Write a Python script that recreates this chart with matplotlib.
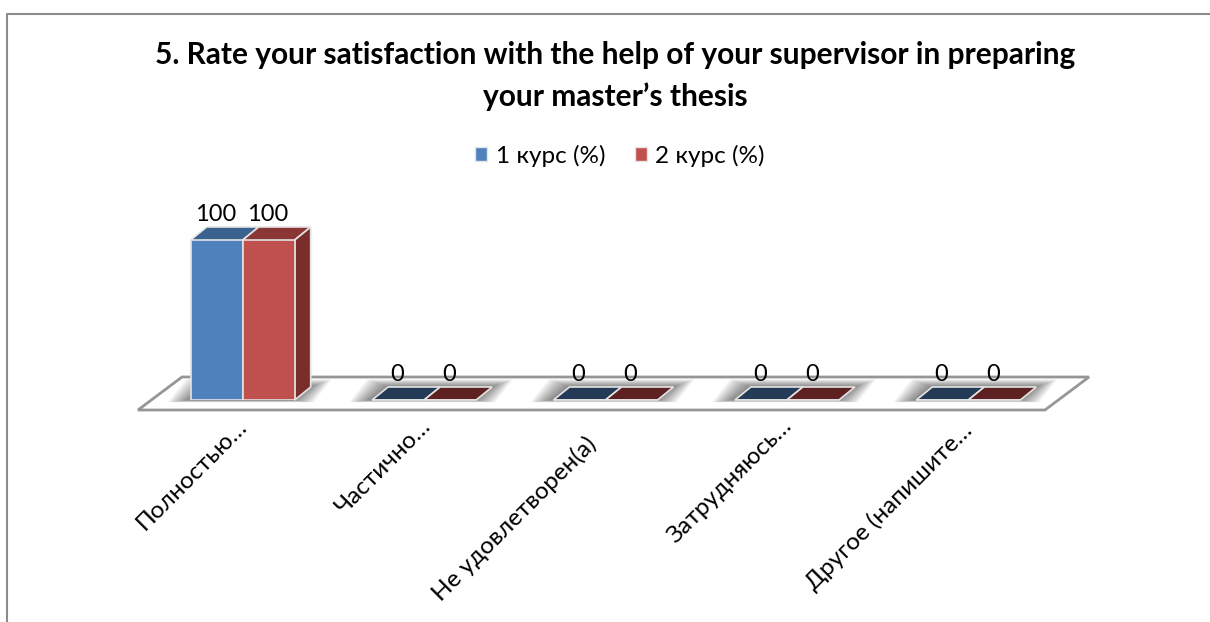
import matplotlib
matplotlib.use("Agg")
import matplotlib.pyplot as plt
from matplotlib.lines import Line2D
from matplotlib.patches import Patch, Polygon
from matplotlib.transforms import Affine2D

plt.rcParams['font.family'] = ['Lato', 'Noto Sans', 'DejaVu Sans']

title = "5. Rate your satisfaction with the help of your supervisor in preparing\nyour master\u2019s thesis"
categories = ["Полностью…", "Частично…", "Не удовлетворен(а)", "Затрудняюсь…", "Другое (напишите…"]
course1 = [100, 0, 0, 0, 0]
course2 = [100, 0, 0, 0, 0]
series_names = ["1 курс (%)", "2 курс (%)"]

front_colors = ["#4F81BD", "#C0504D"]
top_colors = ["#3B618F", "#8A3634"]
flat_colors = ["#243B58", "#5C2120"]
side_color = "#7A2E2C"

# nudges for the rotated labels, in pixels
label_nudge = [(-7, 0), (-4, 0), (-20, -17), (-6, 0), (-8, -4)]

W, H = 1210, 622
fig = plt.figure(figsize=(W / 100, H / 100), dpi=100)
ax = fig.add_axes([152 / W, (H - 400) / H, 907 / W, 160 / H])
ax.set_xlim(-0.5, 4.5)
ax.set_ylim(0, 100)

# pixel sizes turned into data units
xu = 907 / 5
yu = 160 / 100
bar_w = 52 / xu
dx = 16 / xu
dy = 13 / yu


def poly(pts, **kw):
    ax.add_patch(Polygon(pts, closed=True, clip_on=False, **kw))


# floor
fx = -14 / xu
fy = -10 / yu
fdx = 44 / xu
fdy = 33 / yu
poly([(-0.5 + fx, fy), (4.5 + fx, fy), (4.5 + fx + fdx, fy + fdy), (-0.5 + fx + fdx, fy + fdy)],
     facecolor="white", edgecolor="#969696", linewidth=2, zorder=1)

# shadows under each group
for i in range(len(categories)):
    left = i - bar_w
    right = i + bar_w
    for k in range(14, 0, -1):
        gx = k * 1.5 / xu
        gy = k * 0.55 / yu
        poly([(left - gx - 2 / xu, -gy * 0.3), (right - 2 / xu + gx, -gy * 0.3),
              (right + dx + gx, dy + gy), (left + dx - gx, dy + gy)],
             facecolor="black", edgecolor="none", alpha=0.04, zorder=2)

# bars
for s, values in enumerate([course1, course2]):
    xs = [i - bar_w / 2 + s * bar_w for i in range(len(values))]
    ax.bar(xs, values, width=bar_w, color=front_colors[s], edgecolor="#E4E4E4",
           linewidth=1.2, zorder=5)
    for x, v in zip(xs, values):
        c = top_colors[s] if v > 0 else flat_colors[s]
        l = x - bar_w / 2
        r = x + bar_w / 2
        poly([(l, v), (r, v), (r + dx, v + dy), (l + dx, v + dy)], facecolor=c,
             edgecolor="#E4E4E4", linewidth=1.2, zorder=4)
        if s == 1 and v > 0:
            poly([(r, 0), (r + dx, dy), (r + dx, v + dy), (r, v)], facecolor=side_color,
                 edgecolor="#E4E4E4", linewidth=1.2, zorder=4)
        ax.annotate(str(v), (x, v), xytext=(-1, 19), textcoords="offset pixels", ha="center",
                    va="baseline", fontsize=17, color="black", zorder=6)

ax.set_xticks(range(len(categories)))
ax.set_xticklabels(categories, rotation=45, ha="right", rotation_mode="anchor", fontsize=17.5)
ax.tick_params(axis="x", length=0, pad=11)
for lab, (nx, ny) in zip(ax.get_xticklabels(), label_nudge):
    lab.set_transform(lab.get_transform() + Affine2D().translate(nx, ny))
ax.set_yticks([])
for sp in ax.spines.values():
    sp.set_visible(False)
ax.patch.set_visible(False)

fig.text(615 / W, 1 - 76 / H, title, ha="center", va="center", fontsize=21.5,
         fontweight="bold", linespacing=1.55)

handles = [Patch(facecolor=c, edgecolor="#E4E4E4", label=n) for c, n in zip(front_colors, series_names)]
fig.legend(handles=handles, loc="center", bbox_to_anchor=(620 / W, 1 - 156 / H), ncol=2, frameon=False,
           fontsize=17.5, handlelength=0.5, handleheight=0.5, handletextpad=0.35, columnspacing=1.2)

# chart frame
fig.add_artist(Line2D([7 / W, 7 / W, 1], [0, 1 - 13.5 / H, 1 - 13.5 / H], color="#8C8C8C", linewidth=1.5))

fig.savefig("out.png", dpi=100)
